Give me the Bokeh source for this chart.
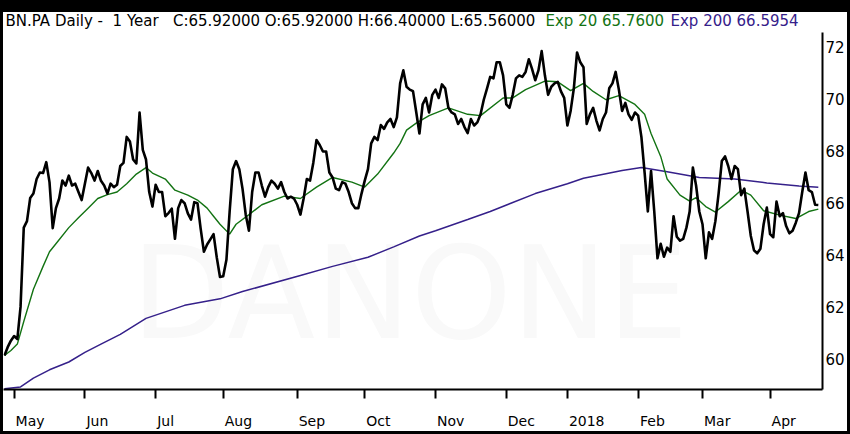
from bokeh.plotting import figure
from bokeh.models import FixedTicker, Label, Range1d, Spacer
from bokeh.layouts import column, row
from bokeh.embed import file_html
from bokeh.resources import INLINE

# Daily closes of BN.PA, one value per trading session (26 Apr 2017 .. 24 Apr 2018)
close = [
    60.13, 60.45, 60.70, 60.88, 60.76, 62.00, 65.05, 65.30, 66.19, 66.36,
    66.92, 67.17, 67.15, 67.57, 66.80, 65.03, 65.80, 66.17, 66.86, 66.67,
    67.05, 66.67, 66.74, 66.42, 66.11, 66.74, 67.36, 67.15, 66.86, 67.23,
    66.85, 66.67, 66.36, 66.74, 66.61, 66.70, 67.42, 67.54, 68.54, 68.36,
    67.67, 67.52, 69.48, 68.04, 67.67, 66.42, 65.86, 66.70, 66.42, 66.42,
    65.49, 65.61, 65.78, 64.62, 65.80, 66.11, 65.99, 65.60, 65.36, 66.03,
    65.99, 65.00, 64.12, 64.40, 64.60, 64.80, 63.90, 63.15, 63.18, 63.81,
    65.67, 67.30, 67.61, 67.30, 66.55, 65.55, 64.93, 66.42, 67.17, 67.17,
    66.67, 66.24, 66.61, 66.86, 66.74, 66.55, 66.80, 66.42, 66.17, 66.24,
    66.17, 65.93, 65.55, 66.17, 66.92, 66.86, 67.54, 68.42, 68.23, 67.98,
    67.98, 67.17, 66.98, 66.55, 66.49, 66.80, 66.74, 66.42, 65.99, 65.80,
    65.80, 66.36, 66.86, 67.30, 68.29, 68.54, 68.42, 69.00, 68.85, 69.10,
    69.23, 68.92, 69.29, 70.60, 71.10, 70.47, 70.36, 70.30, 69.50, 68.67,
    69.79, 70.04, 69.48, 70.16, 70.36, 70.04, 70.56, 70.41, 69.66, 69.48,
    69.41, 69.04, 69.23, 68.92, 68.69, 69.23, 68.98, 69.10, 69.41, 69.97,
    70.40, 70.85, 70.79, 71.41, 71.41, 70.91, 69.79, 69.66, 70.16, 70.79,
    70.91, 70.85, 71.04, 71.53, 71.16, 70.72, 71.10, 71.84, 70.91, 70.16,
    70.47, 70.60, 70.66, 70.29, 70.04, 68.98, 69.54, 70.41, 71.79, 71.41,
    71.22, 69.04, 69.41, 69.66, 69.17, 68.79, 69.23, 69.48, 70.41, 70.60,
    71.04, 70.36, 69.54, 69.85, 69.41, 69.20, 69.48, 69.36, 68.54, 67.17,
    65.67, 67.23, 65.67, 63.87, 64.43, 63.93, 64.28, 64.12, 65.49, 64.70,
    64.55, 64.62, 65.05, 65.67, 67.36, 66.67, 65.67, 65.18, 63.87, 64.87,
    64.62, 65.30, 66.36, 67.61, 67.79, 67.42, 66.92, 67.42, 67.30, 66.30,
    66.55, 65.67, 64.74, 64.18, 64.06, 64.24, 65.18, 65.82, 64.80, 64.68,
    66.05, 65.49, 65.61, 65.11, 64.83, 64.93, 65.24, 65.61, 66.42, 67.17,
    66.49, 66.42, 65.93, 65.92,
]
session = list(range(len(close)))

# Exponential moving averages (session index, value)
ema20_session = [0, 2, 4, 6, 9, 12, 14, 16, 20, 23, 26, 29, 32, 35, 38, 41, 44, 46,
                 50, 53, 57, 60, 63, 65, 67, 70, 72, 76, 80, 87, 92, 97, 102, 108,
                 112, 116, 121, 123, 125, 128, 132, 138, 144, 148, 155, 158, 162,
                 168, 172, 176, 180, 183, 187, 191, 196, 199, 201, 204, 206, 210,
                 213, 215, 218, 221, 225, 229, 232, 236, 241, 246, 250, 253]
ema20 = [60.13, 60.32, 60.57, 61.44, 62.68, 63.56, 64.12, 64.43, 65.05, 65.43,
         65.80, 66.17, 66.32, 66.42, 66.74, 67.11, 67.36, 67.15, 66.92, 66.49,
         66.30, 66.11, 65.80, 65.49, 65.18, 64.80, 65.18, 65.55, 65.93, 66.26,
         66.17, 66.61, 66.98, 66.80, 66.61, 67.11, 67.92, 68.29, 68.80, 69.07,
         69.36, 69.66, 69.41, 69.36, 70.04, 70.04, 70.36, 70.69, 70.66, 70.32,
         70.60, 70.29, 69.97, 70.13, 69.79, 69.41, 68.67, 67.79, 66.92, 66.30,
         66.07, 66.20, 65.86, 65.65, 66.05, 66.49, 66.30, 65.70, 65.53, 65.40,
         65.67, 65.76]

ema200_session = [0, 5, 9, 14, 20, 25, 30, 36, 44, 56, 67, 74, 92, 102, 113, 121,
                  129, 134, 144, 151, 165, 175, 180, 192, 198, 206, 216, 227, 237,
                  247, 253]
ema200 = [58.85, 58.92, 59.26, 59.58, 59.88, 60.25, 60.57, 60.94, 61.56, 62.06,
          62.31, 62.59, 63.21, 63.56, 63.91, 64.31, 64.73, 64.93, 65.36, 65.67,
          66.36, 66.74, 66.95, 67.25, 67.36, 67.20, 66.98, 66.92, 66.77, 66.65,
          66.60]

# First session of each month and its label
month_session = [3, 25, 47, 68, 91, 112, 134, 156, 175, 197, 217, 238]
month_label = ["May", "Jun", "Jul", "Aug", "Sep", "Oct", "Nov", "Dec", "2018",
               "Feb", "Mar", "Apr"]
price_ticks = [60, 62, 64, 66, 68, 70, 72]

NB = "\u00a0"
header_text = "BN.PA Daily -" + NB * 2 + "1 Year" + NB * 3 + \
    "C:65.92000 O:65.92000 H:66.40000 L:65.56000"
ema20_text = "Exp 20 65.7600"
ema200_text = "Exp 200 66.5954"
watermark = "DANONE"

FONT = "DejaVu Sans"
GREEN = "#137313"
PURPLE = "#35208a"

# ---- geometry -------------------------------------------------------------
FIG_W, FIG_H = 844, 419          # inside a 3px / 12px black frame
FRAME_W = 819                    # plot area width
X0, X1 = -0.3, 254.3
XFS = 14                         # month label font size
HEADER_Y = 369                   # header baseline, px above the x axis

# month names are drawn just right of their tick: centre of each label
ADV = {"M": .863, "a": .613, "y": .592, "J": .295, "u": .634, "n": .634, "l": .278,
       "A": .684, "g": .635, "S": .635, "e": .615, "p": .635, "O": .787, "c": .550,
       "t": .392, "N": .748, "o": .612, "v": .592, "D": .770, "2": .636, "0": .636,
       "1": .636, "8": .636, "F": .575, "b": .635, "r": .411}
px_per_session = FRAME_W / (X1 - X0)
label_pos = []
for s, lbl in zip(month_session, month_label):
    w = sum(ADV.get(ch, 0.6) for ch in lbl) * XFS
    label_pos.append(round(s + (w / 2 + 1.5) / px_per_session, 3))

p = figure(width=FIG_W, height=FIG_H, output_backend="svg", toolbar_location=None,
           x_range=Range1d(X0, X1), y_range=Range1d(58.822, 73.327),
           y_axis_location="right",
           min_border_left=0, min_border_right=FIG_W - FRAME_W, min_border_top=0,
           min_border_bottom=31,
           background_fill_color="white", border_fill_color="white",
           outline_line_color=None)

p.grid.visible = False

# month ticks are the (minor) tick marks, labels sit at the major positions
p.xaxis.ticker = FixedTicker(ticks=label_pos, minor_ticks=month_session)
p.xaxis.major_label_overrides = dict(zip(label_pos, month_label))
p.xaxis.axis_line_width = 2
p.xaxis.axis_line_color = "black"
p.xaxis.major_tick_out = 0
p.xaxis.major_tick_in = 0
p.xaxis.minor_tick_out = 9
p.xaxis.minor_tick_in = 0
p.xaxis.minor_tick_line_width = 2
p.xaxis.minor_tick_line_color = "black"
p.xaxis.major_label_standoff = 14
p.xaxis.major_label_text_font = FONT
p.xaxis.major_label_text_font_size = f"{XFS}px"
p.xaxis.major_label_text_color = "black"

p.yaxis.ticker = FixedTicker(ticks=price_ticks)
p.yaxis.bounds = (58.822, 72.54)
p.yaxis.axis_line_width = 2
p.yaxis.axis_line_color = "black"
p.yaxis.major_tick_out = 0
p.yaxis.major_tick_in = 0
p.yaxis.minor_tick_line_color = None
p.yaxis.major_label_standoff = 3
p.yaxis.major_label_text_font = FONT
p.yaxis.major_label_text_font_size = "15px"
p.yaxis.major_label_text_color = "black"

p.add_layout(Label(x=126, y=62.5, text=watermark, text_font=FONT,
                   text_font_size="128px", text_color="#f9f9f9",
                   text_align="center", text_baseline="middle", level="underlay"))

p.line(ema200_session, ema200, line_color=PURPLE, line_width=1.5)
p.line(ema20_session, ema20, line_color=GREEN, line_width=1.4)
p.line(session, close, line_color="black", line_width=2.6, line_join="round")

p.add_layout(Label(x=2, y=HEADER_Y, x_units="screen", y_units="screen",
                   text=header_text, text_font=FONT, text_font_size="15px",
                   text_color="black", text_baseline="alphabetic"))
p.add_layout(Label(x=542, y=HEADER_Y, x_units="screen", y_units="screen",
                   text=ema20_text, text_font=FONT, text_font_size="15px",
                   text_color=GREEN, text_baseline="alphabetic"))
p.add_layout(Label(x=667, y=HEADER_Y, x_units="screen", y_units="screen",
                   text=ema200_text, text_font=FONT, text_font_size="15px",
                   text_color=PURPLE, text_baseline="alphabetic"))

# black picture frame around the chart
page = column(
    Spacer(width=850, height=12, background="black"),
    row(Spacer(width=3, height=FIG_H, background="black"), p,
        Spacer(width=3, height=FIG_H, background="black"), spacing=0),
    Spacer(width=850, height=3, background="black"),
    spacing=0,
)

open("out.html", "w").write(file_html(page, INLINE))
